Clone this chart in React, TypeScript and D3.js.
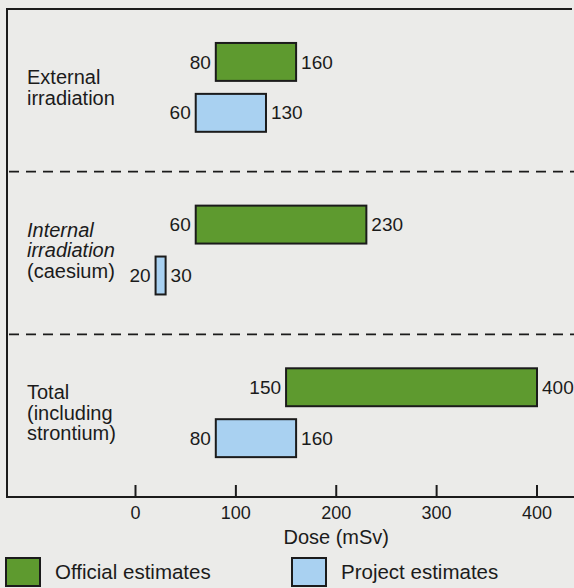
import * as d3 from "d3";

const groups = ["external", "internal", "total"];
const groupLines = [
  ["External", "irradiation"],
  ["Internal", "irradiation", "(caesium)"],
  ["Total", "(including", "strontium)"],
];
const groupItalic = [
  [false, false],
  [true, true, false],
  [false, false, false],
];
const series = ["official", "project"];
const seriesNames = ["Official estimates", "Project estimates"];
const officialLow = [80, 60, 150];
const officialHigh = [160, 230, 400];
const projectLow = [60, 20, 80];
const projectHigh = [130, 30, 160];
const xTicks = [0, 100, 200, 300, 400];

const W = 574;
const H = 588;
const FONT = "'Liberation Sans', Arial, Helvetica, sans-serif";
const INK = "#1b1b1b";
const BG = "#ebebe9";
const GREEN = "#5e9a2f";
const BLUE = "#a9d1f1";

export default function App() {
  const frameLeft = 7;
  const frameTop = 9;
  const axisY = 497;

  const x = d3.scaleLinear().domain([0, 400]).range([135.5, 537]);
  const y = d3.scaleBand<string>().domain(groups).range([frameTop, axisY]);
  const yIn = d3
    .scaleBand<string>()
    .domain(series)
    .range([0, y.bandwidth()])
    .paddingInner(0.255)
    .paddingOuter(0.725)
    .align(0.46);

  const lows = [officialLow, projectLow];
  const highs = [officialHigh, projectHigh];
  const colors = d3.scaleOrdinal<string>().domain(series).range([GREEN, BLUE]);

  const lineH = 20.5;

  return (
    <svg
      width={W}
      height={H}
      style={{ position: "absolute", left: 0, top: 0, display: "block", background: BG }}
      fontFamily={FONT}
    >
      <rect width={W} height={H} fill={BG} />

      {/* frame */}
      <line x1={frameLeft} x2={frameLeft} y1={frameTop} y2={axisY} stroke={INK} strokeWidth={2} />
      <line x1={frameLeft - 1} x2={W - 2} y1={frameTop} y2={frameTop} stroke={INK} strokeWidth={2} />
      <line x1={frameLeft - 1} x2={W} y1={axisY} y2={axisY} stroke={INK} strokeWidth={2} />

      {/* dashed separators */}
      {groups.slice(1).map((g) => (
        <line
          key={g}
          x1={frameLeft + 2}
          x2={W}
          y1={y(g)!}
          y2={y(g)!}
          stroke={INK}
          strokeWidth={1.8}
          strokeDasharray="10,7"
        />
      ))}

      {/* group labels */}
      {groups.map((g, gi) => {
        const lines = groupLines[gi];
        const cy = y(g)! + y.bandwidth() / 2 - 3;
        const first = cy - ((lines.length - 1) * lineH) / 2;
        return (
          <text key={g} x={27} fontSize={20} fill={INK}>
            {lines.map((t, li) => (
              <tspan
                key={li}
                x={27}
                y={first + li * lineH}
                dy="0.35em"
                fontStyle={groupItalic[gi][li] ? "italic" : "normal"}
              >
                {t}
              </tspan>
            ))}
          </text>
        );
      })}

      {/* bars */}
      {groups.map((g, gi) =>
        series.map((s, si) => {
          const lo = lows[si][gi];
          const hi = highs[si][gi];
          const by = y(g)! + yIn(s)!;
          const bh = yIn.bandwidth();
          const x0 = x(lo);
          const x1 = x(hi);
          return (
            <g key={g + s}>
              <rect
                x={x0}
                y={by}
                width={x1 - x0}
                height={bh}
                fill={colors(s)}
                stroke={INK}
                strokeWidth={2}
              />
              <text
                x={x0 - 5}
                y={by + bh / 2}
                dy="0.35em"
                textAnchor="end"
                fontSize={19}
                fill={INK}
              >
                {lo}
              </text>
              <text x={x1 + 5} y={by + bh / 2} dy="0.35em" fontSize={19} fill={INK}>
                {hi}
              </text>
            </g>
          );
        })
      )}

      {/* axis ticks */}
      {xTicks.map((t) => (
        <g key={t}>
          <line x1={x(t)} x2={x(t)} y1={axisY} y2={axisY - 12} stroke={INK} strokeWidth={2} />
          <text x={x(t)} y={519} textAnchor="middle" fontSize={18} fill={INK}>
            {t}
          </text>
        </g>
      ))}
      <text x={x(200)} y={544} textAnchor="middle" fontSize={20} fill={INK}>
        Dose (mSv)
      </text>

      {/* legend */}
      {series.map((s, si) => {
        const lx = si === 0 ? 6 : 292;
        return (
          <g key={s}>
            <rect x={lx} y={558} width={34} height={28} fill={colors(s)} stroke={INK} strokeWidth={2} />
            <text x={lx + 49} y={579} fontSize={20.5} fill={INK}>
              {seriesNames[si]}
            </text>
          </g>
        );
      })}
    </svg>
  );
}
